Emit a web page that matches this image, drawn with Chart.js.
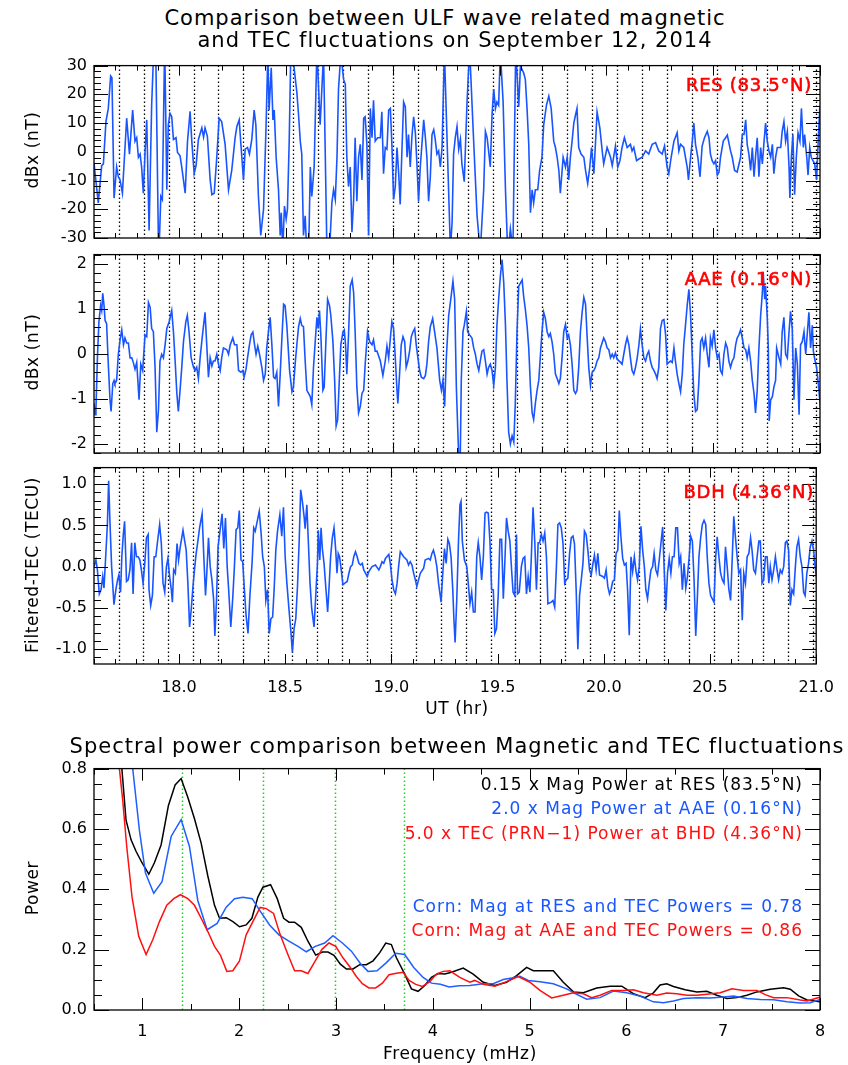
<!DOCTYPE html>
<html>
<head>
<meta charset="utf-8">
<title>ULF wave magnetic and TEC fluctuations</title>
<script src="https://cdn.jsdelivr.net/npm/chart.js@4.4.1/dist/chart.umd.min.js"></script>
<style>
  body { margin: 0; background: #fff; }
  #page { position: relative; width: 848px; height: 1065px; overflow: hidden; background: #fff; }
  canvas { position: absolute; left: 0; }
  .t { position: absolute; font-family: "DejaVu Sans", sans-serif; white-space: nowrap; line-height: 1; color: #000; letter-spacing: 1px; }
  .c { transform: translate(-50%, -50%); }
  .r { transform: translate(-100%, -50%); }
  .v { transform: translate(-50%, -50%) rotate(-90deg); }
  .title { font-size: 21px; }
  .axt { font-size: 17px; letter-spacing: 0.6px; }
  .stn { font-size: 18px; color: #ff0000; letter-spacing: 0.7px; -webkit-text-stroke: 0.6px #ff0000; }
  .leg { font-size: 17px; }
</style>
</head>
<body>
<div id="page">
  <canvas id="resChart" width="848" height="219" style="top:49px"></canvas>
  <canvas id="aaeChart" width="848" height="245" style="top:238px"></canvas>
  <canvas id="bdhChart" width="848" height="253" style="top:451px"></canvas>
  <canvas id="specChart" width="848" height="298" style="top:752px"></canvas>

  <div class="t title c" style="left:445px;top:18px">Comparison between ULF wave related magnetic</div>
  <div class="t title c" style="left:455px;top:40px">and TEC fluctuations on September 12, 2014</div>

  <div class="t axt v" style="left:32px;top:150px">dBx (nT)</div>
  <div class="t axt v" style="left:32px;top:352px">dBx (nT)</div>
  <div class="t axt v" style="left:32px;top:565px">Filtered-TEC (TECU)</div>
  <div class="t axt c" style="left:457px;top:708px">UT (hr)</div>

  <div class="t stn r" style="left:812px;top:85px">RES (83.5°N)</div>
  <div class="t stn r" style="left:812px;top:279px">AAE (0.16°N)</div>
  <div class="t stn r" style="left:814px;top:492px">BDH (4.36°N)</div>

  <div class="t title c" style="left:457px;top:746px">Spectral power comparison between Magnetic and TEC fluctuations</div>
  <div class="t axt v" style="left:32px;top:888px">Power</div>
  <div class="t axt c" style="left:460px;top:1053px">Frequency (mHz)</div>

  <div class="t leg r" style="left:803px;top:784px;color:#000">0.15 x Mag Power at RES (83.5°N)</div>
  <div class="t leg r" style="left:803px;top:808px;color:#1955ff">2.0 x Mag Power at AAE (0.16°N)</div>
  <div class="t leg r" style="left:803px;top:833px;color:#ff1010">5.0 x TEC (PRN−1) Power at BHD (4.36°N)</div>
  <div class="t leg r" style="left:803px;top:906px;color:#1955ff">Corn: Mag at RES and TEC Powers = 0.78</div>
  <div class="t leg r" style="left:803px;top:930px;color:#ff1010">Corn: Mag at AAE and TEC Powers = 0.86</div>
</div>

<script>
// ---- data ----
// [UT hour, dBx nT] at RES
const resSamples = [
  [17.600,-4.0],[17.620,-17.8],[17.636,-4.8],[17.644,-4.2],[17.656,10.5],[17.667,15.1],[17.678,26.4],[17.684,25.8],[17.694,-16.1],[17.706,-5.3],
  [17.714,-8.7],[17.722,-9.8],[17.733,-14.4],[17.753,11.7],[17.766,-0.8],[17.781,14.5],[17.792,3.7],[17.800,4.9],[17.808,-1.9],[17.816,-0.8],
  [17.823,-5.3],[17.831,-14.4],[17.839,-0.2],[17.847,11.1],[17.858,-27.4],[17.870,16.2],[17.883,42],[17.889,36],[17.903,-38],[17.913,-15.5],
  [17.920,-16.6],[17.931,38],[17.941,-13.2],[17.948,9.4],[17.956,13.4],[17.964,12.2],[17.972,4.3],[17.984,4.9],[17.991,-0.2],[18.003,-1.4],
  [18.011,-5.3],[18.027,-14.4],[18.038,3.7],[18.050,14.1],[18.058,3.7],[18.069,-7.6],[18.078,-4.8],[18.089,4.3],[18.105,8.3],[18.113,5.1],
  [18.120,8.3],[18.131,5.4],[18.144,-9.8],[18.152,-14.9],[18.163,-14.4],[18.175,-1.9],[18.186,11.7],[18.198,10.5],[18.214,2.6],[18.230,-13.2],
  [18.245,-6.5],[18.261,4.9],[18.269,8.8],[18.280,11.1],[18.288,2.6],[18.300,-9.8],[18.308,0.9],[18.319,1.5],[18.328,-0.8],[18.339,4.3],
  [18.350,14.5],[18.358,9.4],[18.370,-15.5],[18.381,-29.1],[18.394,-20.0],[18.406,9.4],[18.414,34],[18.420,14.5],[18.430,29.2],[18.438,11.1],
  [18.444,14.5],[18.453,-1.9],[18.464,-13.2],[18.472,-29.1],[18.477,-21.2],[18.484,-34],[18.492,-18.9],[18.500,-23.4],[18.506,-20.0],[18.514,3.2],
  [18.522,36],[18.530,36],[18.538,28.6],[18.550,20.7],[18.558,12.8],[18.566,3.7],[18.573,-0.8],[18.581,-29.1],[18.589,-22.3],[18.597,-36],
  [18.605,-36],[18.613,-5.3],[18.620,-15.5],[18.631,-5.3],[18.644,36],[18.659,9.4],[18.675,34],[18.691,-35],[18.706,-30],[18.714,-17.8],
  [18.722,-13.2],[18.730,-16.6],[18.738,-1.9],[18.745,21.8],[18.756,34],[18.769,25.2],[18.777,23.5],[18.784,-1.9],[18.792,-12.1],[18.800,-5.3],
  [18.808,-28.0],[18.816,-16.6],[18.823,4.9],[18.831,-17.2],[18.839,-1.9],[18.847,2.6],[18.855,-9.8],[18.863,11.7],[18.870,12.2],[18.878,2.6],
  [18.886,-29.1],[18.894,15.1],[18.902,4.9],[18.909,17.9],[18.917,3.7],[18.928,4.9],[18.941,4.9],[18.948,13.9],[18.956,-7.6],[18.964,1.5],
  [18.972,0.9],[18.980,14.5],[18.988,15.1],[18.995,2.6],[19.003,-16.6],[19.011,-12.1],[19.019,1.5],[19.027,-7.6],[19.034,-18.3],[19.042,0.3],
  [19.050,17.3],[19.058,15.6],[19.066,-1.9],[19.073,6.0],[19.081,-5.3],[19.089,5.4],[19.097,12.2],[19.105,6.6],[19.113,-5.3],[19.120,-17.2],
  [19.128,-5.3],[19.144,11.1],[19.152,4.9],[19.159,-1.9],[19.167,-17.2],[19.175,-8.7],[19.183,6.0],[19.191,7.7],[19.198,4.3],[19.206,-0.8],
  [19.214,0.3],[19.222,-5.3],[19.230,1.5],[19.241,35],[19.256,-1.9],[19.269,-34],[19.277,-24.6],[19.284,-0.8],[19.292,4.9],[19.300,8.8],
  [19.308,0.9],[19.316,4.3],[19.323,-4.2],[19.334,-10.4],[19.347,17.3],[19.359,36],[19.378,3.7],[19.394,-22.3],[19.409,-35],[19.425,-13.2],
  [19.433,7.1],[19.441,4.9],[19.448,0.3],[19.456,-5.3],[19.464,12.8],[19.472,21.8],[19.480,15.1],[19.487,17.3],[19.495,16.2],[19.503,35],
  [19.516,17.3],[19.527,-13.2],[19.538,-36],[19.550,-26.8],[19.562,-34],[19.575,36],[19.589,15.6],[19.597,29.8],[19.612,27.5],[19.620,25.2],
  [19.628,15.1],[19.636,2.6],[19.644,-21.2],[19.652,-13.2],[19.659,-17.8],[19.667,-13.2],[19.678,-13.2],[19.687,-6.5],[19.698,-1.9],[19.706,9.4],
  [19.719,16.2],[19.730,19.4],[19.741,15.1],[19.753,3.7],[19.761,1.5],[19.769,-1.9],[19.777,-6.5],[19.784,-14.4],[19.797,-1.9],[19.808,-5.3],
  [19.816,-1.9],[19.823,-9.8],[19.831,-1.9],[19.839,3.7],[19.847,10.0],[19.855,12.8],[19.862,15.1],[19.870,1.5],[19.881,-0.8],[19.894,-1.9],
  [19.902,-6.5],[19.912,-11.0],[19.922,-5.3],[19.930,1.5],[19.941,-7.6],[19.949,3.7],[19.956,13.9],[19.969,8.3],[19.980,0.3],[19.987,-4.2],
  [20.003,1.5],[20.019,-1.9],[20.027,-4.8],[20.042,2.0],[20.053,-5.3],[20.063,-3.1],[20.073,1.5],[20.084,4.9],[20.097,1.5],[20.112,2.6],
  [20.120,0.3],[20.128,1.5],[20.141,-3.1],[20.152,-2.5],[20.167,-1.9],[20.183,0.3],[20.198,-0.8],[20.214,2.6],[20.230,3.2],[20.245,0.3],
  [20.261,-0.8],[20.272,2.0],[20.284,-5.3],[20.292,-7.6],[20.303,-1.9],[20.316,3.7],[20.331,6.6],[20.339,0.3],[20.347,2.6],[20.362,1.5],
  [20.378,-5.3],[20.384,-9.8],[20.394,-1.9],[20.402,3.7],[20.409,10.0],[20.417,2.6],[20.428,-1.9],[20.438,-8.7],[20.448,2.0],[20.459,4.9],
  [20.472,7.1],[20.480,4.9],[20.487,-0.8],[20.495,-3.1],[20.503,-4.2],[20.511,-3.1],[20.519,-8.1],[20.527,-7.0],[20.534,-1.9],[20.547,3.7],
  [20.558,4.9],[20.566,5.8],[20.581,0.3],[20.589,-1.9],[20.600,-6.5],[20.612,-7.0],[20.628,-1.9],[20.636,6.0],[20.644,6.0],[20.652,11.1],
  [20.659,2.6],[20.667,-0.8],[20.675,-6.5],[20.683,1.5],[20.691,-8.7],[20.698,-1.9],[20.706,4.9],[20.714,-8.7],[20.722,1.5],[20.730,-4.2],
  [20.737,2.6],[20.745,10.0],[20.753,3.7],[20.761,0.3],[20.769,-1.9],[20.777,2.6],[20.784,-7.6],[20.792,-1.9],[20.800,1.5],[20.816,1.5],
  [20.823,7.1],[20.831,10.5],[20.839,3.7],[20.847,7.1],[20.855,-5.3],[20.859,-16.1],[20.866,-1.9],[20.873,6.0],[20.881,-14.9],[20.889,-1.9],
  [20.897,6.6],[20.906,3.7],[20.913,15.1],[20.922,1.5],[20.928,6.0],[20.938,-1.9],[20.944,-8.1],[20.952,1.5],[20.959,-1.9],[20.967,-3.1],
  [20.975,-4.2],[20.984,-9.8],[20.991,2.6],[20.998,13.9],[21.003,11.7]
];

// [UT hour, dBx nT] at AAE
const aaeSamples = [
  [17.600,-1.10],[17.605,-1.35],[17.609,-1.24],[17.616,-0.09],[17.623,0.71],[17.631,1.07],[17.636,0.96],[17.641,1.34],[17.647,1.07],[17.652,0.74],
  [17.659,0.67],[17.667,-0.23],[17.675,-1.02],[17.680,-1.28],[17.688,-0.66],[17.694,-0.59],[17.698,-0.66],[17.706,-0.59],[17.714,-0.01],[17.722,0.31],
  [17.730,0.53],[17.738,0.20],[17.745,0.35],[17.753,0.24],[17.761,0.24],[17.769,-0.09],[17.777,-0.09],[17.784,-0.19],[17.792,-0.34],[17.800,-0.19],
  [17.811,-1.02],[17.819,-0.23],[17.828,-0.37],[17.839,0.42],[17.847,0.38],[17.855,1.14],[17.863,1.03],[17.870,0.56],[17.878,0.49],[17.886,-0.30],
  [17.894,-1.74],[17.902,-1.24],[17.909,-0.16],[17.917,-0.01],[17.925,-0.09],[17.933,0.20],[17.941,0.56],[17.952,0.71],[17.964,0.96],[17.972,0.49],
  [17.980,-0.16],[17.988,-0.88],[17.995,-1.28],[18.003,-0.81],[18.011,-0.30],[18.019,0.27],[18.030,0.71],[18.037,0.85],[18.045,0.49],[18.055,-0.09],
  [18.066,-0.30],[18.073,-0.37],[18.081,-0.30],[18.089,-0.55],[18.097,-0.09],[18.108,0.42],[18.120,0.92],[18.128,0.20],[18.136,-0.52],[18.144,-0.09],
  [18.152,-0.27],[18.159,-0.16],[18.167,-0.16],[18.175,-0.01],[18.183,-0.23],[18.191,-0.37],[18.198,-0.09],[18.206,0.13],[18.222,0.09],[18.230,-0.01],
  [18.238,0.20],[18.250,0.35],[18.258,0.20],[18.269,0.20],[18.277,-0.37],[18.288,-0.41],[18.297,-0.37],[18.303,-0.52],[18.312,-0.34],[18.319,-0.09],
  [18.328,0.20],[18.336,0.42],[18.344,0.48],[18.352,0.20],[18.359,-0.01],[18.367,0.17],[18.375,-0.01],[18.386,-0.30],[18.394,-0.59],[18.402,-0.45],
  [18.409,0.13],[18.417,0.49],[18.425,0.81],[18.433,0.20],[18.441,-0.52],[18.448,-0.55],[18.456,-0.41],[18.464,-1.17],[18.472,-0.45],[18.480,0.35],
  [18.488,1.10],[18.495,1.07],[18.503,0.63],[18.516,-0.37],[18.527,-0.84],[18.534,-0.74],[18.542,-0.23],[18.550,0.20],[18.558,0.60],[18.566,0.78],
  [18.573,0.63],[18.581,0.60],[18.589,-0.16],[18.597,-0.81],[18.605,-0.88],[18.613,-0.95],[18.620,-1.13],[18.628,-0.30],[18.636,0.27],[18.644,0.81],
  [18.650,0.56],[18.656,0.96],[18.663,0.35],[18.672,-0.81],[18.678,-0.74],[18.686,0.27],[18.694,1.21],[18.703,1.07],[18.709,0.85],[18.719,0.27],
  [18.727,-0.59],[18.734,-1.60],[18.741,-1.46],[18.750,-0.45],[18.756,0.20],[18.766,0.49],[18.772,0.53],[18.778,0.20],[18.784,-0.45],[18.792,0.42],
  [18.800,1.50],[18.809,1.64],[18.816,1.35],[18.823,0.49],[18.831,-0.74],[18.839,-1.31],[18.847,-1.17],[18.855,-0.88],[18.863,-0.81],[18.870,-0.23],
  [18.881,0.49],[18.891,0.27],[18.902,0.20],[18.909,0.31],[18.917,0.06],[18.925,0.06],[18.933,-0.05],[18.941,-0.16],[18.953,-0.48],[18.964,-0.16],
  [18.972,0.17],[18.980,-0.09],[18.988,0.35],[18.995,0.71],[19.003,0.56],[19.011,-0.09],[19.019,-0.81],[19.023,-1.10],[19.031,-0.45],[19.039,0.20],
  [19.047,0.38],[19.055,0.27],[19.062,-0.30],[19.070,-0.16],[19.078,0.06],[19.086,0.38],[19.094,0.49],[19.102,0.56],[19.109,0.20],[19.117,-0.09],
  [19.125,-0.37],[19.133,-0.52],[19.144,-0.55],[19.152,-0.48],[19.159,-0.23],[19.167,0.27],[19.175,0.60],[19.186,0.78],[19.195,0.49],[19.206,0.13],
  [19.219,-0.59],[19.227,-0.81],[19.234,-0.59],[19.242,-1.17],[19.250,-0.09],[19.261,0.85],[19.269,1.14],[19.281,1.61],[19.289,1.21],[19.297,-0.74],
  [19.303,-1.60],[19.309,-2.40],[19.315,-2.40],[19.320,-0.59],[19.328,0.49],[19.334,0.63],[19.344,0.94],[19.350,0.49],[19.359,0.42],[19.370,0.35],
  [19.378,0.13],[19.386,-0.01],[19.394,-0.23],[19.402,-0.37],[19.409,-0.16],[19.417,0.06],[19.425,0.09],[19.433,-0.16],[19.441,-0.45],[19.448,-0.30],
  [19.456,-0.23],[19.464,-0.37],[19.472,-0.70],[19.480,-0.30],[19.487,0.63],[19.495,1.21],[19.503,1.72],[19.511,2.09],[19.519,1.57],[19.527,0.63],
  [19.534,-0.59],[19.542,-1.74],[19.550,-2.00],[19.558,-1.82],[19.566,-1.96],[19.573,-1.10],[19.581,0.49],[19.589,1.50],[19.597,1.57],[19.605,1.64],
  [19.612,1.28],[19.620,0.99],[19.628,0.63],[19.636,0.13],[19.644,-0.74],[19.652,-1.31],[19.659,-1.46],[19.667,-1.10],[19.675,-0.81],[19.683,-0.59],
  [19.691,-0.01],[19.698,0.49],[19.706,0.92],[19.714,0.78],[19.722,0.49],[19.730,0.38],[19.737,0.45],[19.745,0.27],[19.753,-0.01],[19.761,-0.45],
  [19.769,-0.55],[19.777,-0.66],[19.784,-0.55],[19.792,-0.09],[19.800,0.49],[19.808,0.65],[19.816,0.35],[19.823,0.42],[19.831,0.20],[19.839,-0.23],
  [19.847,-0.81],[19.855,-0.88],[19.862,-0.81],[19.870,-0.30],[19.878,0.49],[19.886,0.92],[19.894,1.25],[19.902,1.10],[19.909,0.42],[19.917,-0.30],
  [19.925,-0.70],[19.933,-0.41],[19.941,-0.37],[19.948,-0.30],[19.956,-0.16],[19.964,-0.09],[19.972,0.13],[19.987,0.35],[19.995,0.27],[20.003,0.13],
  [20.011,0.09],[20.019,-0.09],[20.027,-0.01],[20.034,-0.09],[20.042,0.02],[20.050,-0.12],[20.066,-0.19],[20.073,-0.23],[20.081,-0.01],[20.089,0.20],
  [20.097,0.36],[20.105,0.20],[20.112,-0.09],[20.120,-0.37],[20.128,-0.45],[20.136,-0.30],[20.144,-0.09],[20.152,0.20],[20.159,0.55],[20.167,0.20],
  [20.175,-0.09],[20.183,-0.16],[20.191,-0.01],[20.198,0.06],[20.206,-0.16],[20.214,-0.30],[20.222,-0.37],[20.230,-0.45],[20.237,-0.55],[20.245,-0.30],
  [20.253,0.56],[20.261,0.74],[20.269,0.76],[20.277,0.42],[20.284,-0.23],[20.292,-0.19],[20.300,-0.16],[20.308,-0.19],[20.316,0.13],[20.323,-0.16],
  [20.331,-0.45],[20.339,-0.66],[20.347,-0.84],[20.355,-0.45],[20.362,0.20],[20.370,0.63],[20.378,1.07],[20.386,1.43],[20.394,0.85],[20.402,-0.09],
  [20.409,-0.88],[20.417,-1.28],[20.425,-1.24],[20.433,-0.59],[20.441,0.27],[20.448,0.35],[20.456,0.13],[20.464,0.35],[20.472,-0.01],[20.480,-0.30],
  [20.487,0.35],[20.495,0.17],[20.503,0.53],[20.511,0.13],[20.519,-0.09],[20.527,-0.01],[20.534,-0.37],[20.542,-0.45],[20.550,-0.01],[20.558,0.24],
  [20.566,0.13],[20.573,-0.16],[20.581,-0.30],[20.589,-0.16],[20.597,-0.09],[20.605,0.20],[20.612,0.35],[20.620,0.42],[20.628,0.53],[20.636,0.35],
  [20.644,0.13],[20.652,0.09],[20.659,-0.09],[20.667,0.13],[20.675,-0.16],[20.683,-0.59],[20.691,-0.88],[20.698,-1.31],[20.706,-0.81],[20.714,0.13],
  [20.722,0.85],[20.730,1.35],[20.734,1.82],[20.741,1.21],[20.745,1.50],[20.753,0.81],[20.758,0.13],[20.762,-1.49],[20.769,-1.02],[20.777,-0.95],
  [20.784,-0.74],[20.792,-0.59],[20.797,0.13],[20.808,-0.09],[20.816,-0.23],[20.823,0.49],[20.831,0.81],[20.839,-0.01],[20.847,-0.09],[20.855,0.49],
  [20.862,0.94],[20.870,0.56],[20.878,-1.02],[20.886,0.13],[20.894,-0.23],[20.902,-1.35],[20.909,0.20],[20.917,0.27],[20.925,0.49],[20.933,-0.01],
  [20.941,0.49],[20.948,0.92],[20.956,0.13],[20.964,0.63],[20.969,0.06],[20.977,-0.16],[20.984,-0.30],[20.992,-0.66],[21.003,-1.24]
];

// [UT hour, filtered TEC in TECU] at BDH
const bdhSamples = [
  [17.600,0.00],[17.609,0.08],[17.616,-0.04],[17.625,-0.33],[17.633,-0.28],[17.641,-0.12],[17.647,-0.26],[17.655,0.12],[17.663,0.51],[17.669,1.04],
  [17.675,0.55],[17.683,0.00],[17.694,-0.46],[17.703,-0.28],[17.711,-0.16],[17.717,-0.10],[17.725,-0.31],[17.731,0.12],[17.738,0.39],[17.744,0.55],
  [17.750,0.08],[17.753,-0.18],[17.761,-0.16],[17.769,-0.04],[17.777,0.29],[17.784,-0.33],[17.792,0.29],[17.800,0.12],[17.808,0.12],[17.816,0.08],
  [17.823,-0.04],[17.831,-0.20],[17.839,0.04],[17.847,0.35],[17.855,0.39],[17.859,-0.28],[17.867,-0.47],[17.875,-0.35],[17.883,0.12],[17.891,0.12],
  [17.898,0.28],[17.909,0.51],[17.917,0.28],[17.925,-0.20],[17.933,-0.31],[17.941,0.00],[17.948,0.10],[17.956,-0.12],[17.964,-0.28],[17.969,-0.43],
  [17.975,-0.04],[17.983,-0.08],[17.991,0.28],[17.998,0.08],[18.006,0.24],[18.019,0.44],[18.027,0.31],[18.034,0.20],[18.042,-0.20],[18.050,-0.73],
  [18.058,-0.51],[18.066,-0.24],[18.073,-0.04],[18.081,0.16],[18.089,0.31],[18.097,0.47],[18.109,0.64],[18.117,0.12],[18.125,-0.35],[18.131,-0.08],
  [18.139,0.35],[18.147,0.00],[18.155,-0.16],[18.163,-0.39],[18.169,-0.84],[18.177,-0.39],[18.184,0.24],[18.194,0.45],[18.203,0.64],[18.211,0.22],
  [18.219,0.59],[18.227,0.00],[18.234,-0.28],[18.244,-0.73],[18.253,-0.39],[18.261,0.00],[18.269,0.45],[18.277,0.47],[18.284,0.68],[18.292,0.08],
  [18.300,0.06],[18.308,-0.28],[18.316,-0.59],[18.325,-0.81],[18.334,-0.35],[18.344,0.04],[18.352,0.47],[18.359,0.43],[18.367,0.53],[18.378,0.67],
  [18.386,0.43],[18.394,0.12],[18.402,0.00],[18.409,-0.41],[18.417,-0.28],[18.425,-0.81],[18.433,-0.63],[18.441,-0.61],[18.448,-0.28],[18.456,0.20],
  [18.464,0.43],[18.475,0.63],[18.484,0.37],[18.492,0.72],[18.500,0.12],[18.508,-0.20],[18.519,-0.55],[18.527,-0.79],[18.534,-1.04],[18.542,-0.75],
  [18.550,-0.63],[18.558,-0.24],[18.566,0.31],[18.573,0.93],[18.581,0.79],[18.589,0.61],[18.594,0.46],[18.602,0.75],[18.609,0.31],[18.617,-0.20],
  [18.625,-0.51],[18.636,-0.73],[18.644,-0.35],[18.652,0.04],[18.656,0.44],[18.663,0.08],[18.669,0.47],[18.675,0.22],[18.683,0.04],[18.691,-0.24],
  [18.700,-0.55],[18.706,-0.28],[18.714,0.12],[18.722,0.35],[18.730,0.47],[18.738,0.20],[18.744,-0.08],[18.750,0.16],[18.756,0.12],[18.764,-0.04],
  [18.772,-0.22],[18.781,-0.20],[18.792,-0.18],[18.800,-0.08],[18.808,0.00],[18.816,0.02],[18.823,0.12],[18.831,0.18],[18.839,0.12],[18.847,0.04],
  [18.855,0.02],[18.863,0.04],[18.870,-0.04],[18.878,-0.08],[18.886,-0.12],[18.894,-0.06],[18.909,0.00],[18.925,0.02],[18.941,-0.04],[18.948,0.00],
  [18.956,0.06],[18.964,0.04],[18.972,0.10],[18.988,0.15],[18.995,0.04],[19.003,-0.16],[19.011,-0.28],[19.019,-0.33],[19.027,-0.20],[19.034,0.00],
  [19.042,0.18],[19.058,0.12],[19.073,0.08],[19.081,0.02],[19.089,0.06],[19.097,0.02],[19.105,-0.08],[19.113,-0.16],[19.120,-0.24],[19.128,-0.16],
  [19.136,-0.08],[19.152,-0.02],[19.159,0.08],[19.175,0.10],[19.183,0.08],[19.191,0.16],[19.198,0.20],[19.206,0.12],[19.214,0.00],[19.222,-0.20],
  [19.230,-0.35],[19.234,-0.43],[19.242,-0.08],[19.250,0.22],[19.258,0.04],[19.266,0.33],[19.273,0.28],[19.281,0.12],[19.289,-0.28],[19.295,-0.67],
  [19.300,-0.92],[19.308,-0.39],[19.316,0.31],[19.323,0.75],[19.328,0.79],[19.334,0.31],[19.344,0.08],[19.355,0.00],[19.362,-0.20],[19.370,-0.45],
  [19.378,-0.31],[19.386,-0.55],[19.394,-0.55],[19.402,0.12],[19.409,0.29],[19.417,0.12],[19.425,-0.16],[19.433,0.12],[19.441,0.65],[19.448,0.66],
  [19.456,0.65],[19.464,0.31],[19.472,-0.28],[19.480,-0.28],[19.487,-0.81],[19.495,-0.75],[19.503,-0.35],[19.511,0.33],[19.519,0.33],[19.527,-0.39],
  [19.534,0.04],[19.542,0.59],[19.550,0.43],[19.558,0.31],[19.566,-0.04],[19.573,-0.31],[19.581,-0.35],[19.589,0.39],[19.594,-0.33],[19.602,-0.31],
  [19.612,0.00],[19.620,0.10],[19.628,0.12],[19.636,-0.33],[19.644,-0.12],[19.652,-0.31],[19.659,0.12],[19.667,0.72],[19.675,0.31],[19.683,-0.28],
  [19.691,0.29],[19.698,0.29],[19.706,0.39],[19.714,0.31],[19.722,0.41],[19.730,0.12],[19.737,-0.45],[19.753,-0.43],[19.761,-0.41],[19.769,-0.49],
  [19.777,0.00],[19.784,0.51],[19.792,0.53],[19.800,0.47],[19.808,0.28],[19.816,-0.20],[19.823,-0.16],[19.831,-0.14],[19.839,0.16],[19.847,0.35],
  [19.855,0.37],[19.862,0.28],[19.870,-0.28],[19.878,-1.00],[19.886,-0.35],[19.894,-0.16],[19.902,0.04],[19.909,0.43],[19.917,0.39],[19.925,0.20],
  [19.933,-0.04],[19.941,-0.10],[19.948,0.02],[19.956,0.14],[19.964,-0.04],[19.972,0.16],[19.980,-0.10],[19.995,-0.12],[20.003,-0.14],[20.011,-0.04],
  [20.019,-0.24],[20.027,-0.33],[20.034,-0.28],[20.042,-0.18],[20.050,-0.16],[20.058,0.16],[20.066,0.20],[20.073,0.68],[20.081,0.35],[20.089,0.10],
  [20.097,0.02],[20.105,0.04],[20.112,-0.28],[20.120,-0.83],[20.128,0.12],[20.136,-0.06],[20.144,0.12],[20.152,-0.06],[20.159,-0.16],[20.167,0.00],
  [20.175,0.49],[20.183,0.20],[20.191,0.00],[20.198,-0.28],[20.206,-0.39],[20.214,-0.20],[20.222,-0.04],[20.230,0.00],[20.237,0.16],[20.245,-0.04],
  [20.253,-0.10],[20.261,0.08],[20.269,0.28],[20.277,0.48],[20.284,0.00],[20.292,-0.53],[20.300,-0.08],[20.308,0.10],[20.316,-0.08],[20.323,0.12],
  [20.331,0.12],[20.339,0.47],[20.347,0.47],[20.355,0.04],[20.362,0.12],[20.370,-0.28],[20.378,0.04],[20.386,-0.26],[20.394,-0.12],[20.402,0.12],
  [20.409,0.37],[20.417,0.31],[20.425,-0.16],[20.433,-0.84],[20.441,-0.35],[20.448,0.12],[20.456,0.35],[20.464,0.51],[20.472,0.56],[20.480,0.51],
  [20.487,0.12],[20.495,-0.20],[20.503,-0.35],[20.511,-0.39],[20.519,-0.43],[20.527,0.12],[20.534,0.36],[20.542,0.12],[20.550,-0.08],[20.558,-0.16],
  [20.566,-0.20],[20.573,0.24],[20.581,0.00],[20.589,-0.28],[20.597,-0.41],[20.605,0.12],[20.612,0.61],[20.620,0.35],[20.628,0.12],[20.636,-0.08],
  [20.644,-0.04],[20.652,-0.65],[20.659,-0.08],[20.667,-0.20],[20.675,0.12],[20.683,0.16],[20.691,0.35],[20.698,0.20],[20.706,-0.04],[20.714,-0.08],
  [20.722,0.12],[20.730,0.31],[20.737,0.31],[20.745,-0.20],[20.753,-0.16],[20.761,0.12],[20.769,0.12],[20.777,-0.20],[20.784,0.00],[20.792,-0.16],
  [20.800,-0.04],[20.808,0.12],[20.816,-0.04],[20.823,-0.16],[20.831,-0.04],[20.839,-0.08],[20.847,0.00],[20.855,0.29],[20.862,0.31],[20.870,0.20],
  [20.878,-0.47],[20.886,-0.28],[20.894,-0.33],[20.902,0.00],[20.909,0.24],[20.917,0.33],[20.925,0.12],[20.933,0.00],[20.941,-0.31],[20.948,-0.35],
  [20.956,-0.08],[20.964,0.04],[20.972,0.24],[20.980,0.31],[20.988,0.20],[20.995,0.00],[21.003,-0.16]
];

// dotted guide times (UT hour) drawn in the three upper panels
const waveTimes = [17.717,17.833,17.950,18.067,18.183,18.300,18.417,18.533,18.650,18.767,18.883,19.000,19.117,19.233,19.350,
                   19.467,19.583,19.700,19.817,19.933,20.050,20.167,20.283,20.400,20.517,20.633,20.750,20.867,20.983];

// spectra: [frequency mHz, scaled power]
const specRes = [
  [0.75,0.95],[0.831,0.629],[0.883,0.564],[0.934,0.526],[0.996,0.488],[1.066,0.450],[1.124,0.488],[1.193,0.547],[1.269,0.678],[1.338,0.746],
  [1.400,0.767],[1.469,0.705],[1.538,0.634],[1.607,0.553],[1.676,0.444],[1.745,0.347],[1.797,0.304],[1.866,0.306],[1.935,0.293],[2.003,0.276],
  [2.072,0.282],[2.131,0.304],[2.193,0.374],[2.245,0.407],[2.324,0.415],[2.393,0.369],[2.459,0.304],[2.514,0.291],[2.572,0.291],[2.641,0.274],
  [2.710,0.228],[2.790,0.182],[2.859,0.192],[2.917,0.192],[2.979,0.181],[3.045,0.152],[3.107,0.136],[3.176,0.136],[3.245,0.150],[3.314,0.150],
  [3.383,0.163],[3.452,0.190],[3.514,0.222],[3.572,0.217],[3.624,0.173],[3.710,0.119],[3.779,0.070],[3.848,0.062],[3.917,0.081],[3.986,0.108],
  [4.055,0.121],[4.124,0.119],[4.193,0.125],[4.314,0.139],[4.417,0.119],[4.521,0.092],[4.641,0.081],[4.762,0.092],[4.866,0.114],[4.969,0.141],
  [5.038,0.130],[5.124,0.130],[5.245,0.130],[5.348,0.092],[5.452,0.060],[5.555,0.057],[5.693,0.073],[5.831,0.079],[5.952,0.079],[6.072,0.054],
  [6.193,0.041],[6.279,0.057],[6.348,0.083],[6.417,0.087],[6.486,0.078],[6.607,0.067],[6.728,0.060],[6.831,0.062],[6.934,0.049],[7.038,0.038],
  [7.141,0.041],[7.245,0.049],[7.348,0.060],[7.486,0.069],[7.624,0.074],[7.693,0.069],[7.779,0.047],[7.866,0.033],[8.003,0.027]
];
const specAae = [
  [0.85,0.93],[0.900,0.800],[0.969,0.596],[1.031,0.455],[1.117,0.387],[1.203,0.425],[1.297,0.575],[1.400,0.631],[1.486,0.542],[1.572,0.363],
  [1.669,0.266],[1.772,0.287],[1.866,0.341],[1.952,0.369],[2.038,0.374],[2.134,0.369],[2.210,0.331],[2.314,0.282],[2.410,0.249],[2.514,0.228],
  [2.607,0.211],[2.693,0.193],[2.786,0.211],[2.883,0.222],[2.969,0.246],[3.066,0.222],[3.159,0.195],[3.252,0.154],[3.331,0.128],[3.424,0.130],
  [3.521,0.157],[3.617,0.188],[3.710,0.184],[3.803,0.141],[3.900,0.108],[3.986,0.089],[4.079,0.085],[4.169,0.076],[4.272,0.080],[4.383,0.081],
  [4.521,0.087],[4.624,0.087],[4.728,0.101],[4.814,0.106],[4.900,0.112],[4.986,0.098],[5.107,0.094],[5.245,0.087],[5.383,0.070],[5.486,0.052],
  [5.590,0.036],[5.728,0.041],[5.866,0.063],[6.003,0.057],[6.141,0.046],[6.279,0.027],[6.383,0.024],[6.486,0.030],[6.590,0.038],[6.728,0.041],
  [6.866,0.040],[7.003,0.043],[7.107,0.046],[7.245,0.038],[7.383,0.035],[7.521,0.034],[7.659,0.027],[7.797,0.023],[7.900,0.024],[8.003,0.035]
];
const specTec = [
  [0.72,0.93],[0.797,0.694],[0.838,0.542],[0.893,0.374],[0.962,0.244],[1.038,0.184],[1.107,0.233],[1.176,0.293],[1.252,0.347],[1.324,0.369],
  [1.393,0.382],[1.469,0.369],[1.538,0.347],[1.607,0.304],[1.676,0.260],[1.745,0.211],[1.807,0.181],[1.872,0.128],[1.934,0.130],[2.003,0.163],
  [2.072,0.249],[2.141,0.293],[2.217,0.340],[2.279,0.336],[2.355,0.320],[2.424,0.249],[2.503,0.184],[2.572,0.130],[2.641,0.130],[2.710,0.121],
  [2.786,0.163],[2.855,0.201],[2.928,0.222],[2.997,0.211],[3.072,0.173],[3.148,0.141],[3.210,0.111],[3.272,0.087],[3.341,0.073],[3.410,0.073],
  [3.479,0.089],[3.548,0.117],[3.624,0.122],[3.693,0.125],[3.755,0.098],[3.824,0.085],[3.893,0.078],[3.969,0.094],[4.038,0.119],[4.107,0.128],
  [4.176,0.130],[4.279,0.108],[4.383,0.092],[4.434,0.098],[4.521,0.085],[4.641,0.079],[4.762,0.094],[4.883,0.111],[5.003,0.092],[5.107,0.065],
  [5.228,0.040],[5.348,0.049],[5.452,0.057],[5.555,0.054],[5.641,0.041],[5.728,0.049],[5.848,0.065],[5.969,0.065],[6.072,0.067],[6.176,0.057],
  [6.314,0.049],[6.417,0.056],[6.521,0.054],[6.624,0.049],[6.728,0.049],[6.831,0.052],[6.969,0.057],[7.090,0.070],[7.210,0.065],[7.348,0.065],
  [7.434,0.051],[7.521,0.041],[7.659,0.041],[7.797,0.033],[7.866,0.030],[8.003,0.043]
];
// dashed green markers on the spectrum (mHz)
const peakFreqs = [1.41, 2.25, 2.99, 3.70];

// tick labels
const utTicks = [18.0, 18.5, 19.0, 19.5, 20.0, 20.5, 21.0];
const resTicks = [-30, -20, -10, 0, 10, 20, 30];
const aaeTicks = [-2, -1, 0, 1, 2];
const tecTicks = [-1.0, -0.5, 0.0, 0.5, 1.0];
const freqTicks = [1, 2, 3, 4, 5, 6, 7, 8];
const powerTicks = [0.0, 0.2, 0.4, 0.6, 0.8];

const traceBlue = '#1955ff';
const tickFont = { family: 'DejaVu Sans', size: 16 };

function stepsBetween(min, max, step) {
  const out = [];
  const first = Math.ceil(min / step - 1e-6);
  const last = Math.floor(max / step + 1e-6);
  for (let k = first; k <= last; k++) out.push(k * step);
  return out;
}

// box + inward ticks on all four sides (IDL style)
const framePlugin = {
  id: 'frame',
  afterDatasetsDraw(chart, args, o) {
    const { ctx, chartArea: a, scales: { x, y } } = chart;
    ctx.save();
    ctx.strokeStyle = '#000';
    ctx.lineWidth = 1;
    ctx.beginPath();
    const xMaj = x.ticks.map(t => t.value);
    const yMaj = y.ticks.map(t => t.value);
    const xt = (v, len) => {
      const p = Math.round(x.getPixelForValue(v)) + 0.5;
      ctx.moveTo(p, a.bottom); ctx.lineTo(p, a.bottom - len);
      ctx.moveTo(p, a.top); ctx.lineTo(p, a.top + len);
    };
    const yt = (v, len) => {
      const p = Math.round(y.getPixelForValue(v)) + 0.5;
      ctx.moveTo(a.left, p); ctx.lineTo(a.left + len, p);
      ctx.moveTo(a.right, p); ctx.lineTo(a.right - len, p);
    };
    stepsBetween(x.min, x.max, o.xMinor).forEach(v => xt(v, o.xMinorLen));
    xMaj.forEach(v => xt(v, o.xMajorLen));
    stepsBetween(y.min, y.max, o.yMinor).forEach(v => yt(v, o.yMinorLen));
    yMaj.forEach(v => yt(v, o.yMajorLen));
    ctx.stroke();
    ctx.lineWidth = 1.3;
    ctx.strokeRect(a.left, a.top, a.right - a.left, a.bottom - a.top);
    ctx.restore();
  }
};

// vertical dotted guide lines
const guidePlugin = {
  id: 'guides',
  beforeDatasetsDraw(chart, args, o) {
    const { ctx, chartArea: a, scales: { x } } = chart;
    ctx.save();
    ctx.strokeStyle = o.color;
    ctx.lineWidth = o.width;
    ctx.setLineDash(o.dash);
    o.values.forEach(v => {
      const p = Math.round(x.getPixelForValue(v)) + 0.5;
      ctx.beginPath();
      ctx.moveTo(p, a.top);
      ctx.lineTo(p, a.bottom);
      ctx.stroke();
    });
    ctx.restore();
  }
};

function toXY(samples) {
  return samples.map(p => ({ x: p[0], y: p[1] }));
}

function timePanel(id, samples, yMin, yMax, yTicks, yMinor, showX, yFmt) {
  return new Chart(document.getElementById(id), {
    type: 'line',
    data: {
      datasets: [{
        data: toXY(samples),
        borderColor: traceBlue,
        borderWidth: 1.6,
        pointRadius: 0,
        tension: 0
      }]
    },
    options: {
      responsive: false,
      animation: false,
      events: [],
      layout: { padding: { top: 12, right: 28, left: 0, bottom: 0 } },
      plugins: {
        legend: { display: false },
        tooltip: { enabled: false },
        frame: { xMinor: 0.1, xMinorLen: 5, xMajorLen: 10, yMinor: yMinor, yMinorLen: 7, yMajorLen: 14 },
        guides: { values: waveTimes, color: '#000', width: 1.3, dash: [1.3, 2.7] }
      },
      scales: {
        x: {
          type: 'linear', min: 17.6, max: 21.0,
          afterBuildTicks: s => { s.ticks = utTicks.map(v => ({ value: v })); },
          afterFit: s => { s.height = showX ? 40 : 30; },
          grid: { display: false, drawTicks: false },
          border: { display: false },
          ticks: { display: showX, autoSkip: false, maxRotation: 0, padding: 14, color: '#000', font: tickFont,
                   callback: v => v.toFixed(1) }
        },
        y: {
          type: 'linear', min: yMin, max: yMax,
          afterBuildTicks: s => { s.ticks = yTicks.map(v => ({ value: v })); },
          afterFit: s => { s.width = 94; },
          grid: { display: false, drawTicks: false },
          border: { display: false },
          ticks: { autoSkip: false, padding: 7, color: '#000', font: tickFont, callback: yFmt }
        }
      }
    },
    plugins: [framePlugin, guidePlugin]
  });
}

timePanel('resChart', resSamples, -30, 30, resTicks, 2, false, v => String(v));
timePanel('aaeChart', aaeSamples, -2.2, 2.2, aaeTicks, 0.2, false, v => String(v));
timePanel('bdhChart', bdhSamples, -1.18, 1.2, tecTicks, 0.1, true, v => v.toFixed(1));

new Chart(document.getElementById('specChart'), {
  type: 'line',
  data: {
    datasets: [
      { label: 'RES', data: toXY(specRes), borderColor: '#000', borderWidth: 1.5, pointRadius: 0, tension: 0, order: 2 },
      { label: 'AAE', data: toXY(specAae), borderColor: '#1f5eff', borderWidth: 1.5, pointRadius: 0, tension: 0, order: 1 },
      { label: 'TEC', data: toXY(specTec), borderColor: '#ff1010', borderWidth: 1.5, pointRadius: 0, tension: 0, order: 0 }
    ]
  },
  options: {
    responsive: false,
    animation: false,
    events: [],
    layout: { padding: { top: 12, right: 28, left: 0, bottom: 0 } },
    plugins: {
      legend: { display: false },
      tooltip: { enabled: false },
      frame: { xMinor: 0.5, xMinorLen: 6, xMajorLen: 12, yMinor: 0.05, yMinorLen: 8, yMajorLen: 15 },
      guides: { values: peakFreqs, color: '#10e010', width: 1.5, dash: [1.5, 2.5] }
    },
    scales: {
      x: {
        type: 'linear', min: 0.5, max: 8,
        afterBuildTicks: s => { s.ticks = freqTicks.map(v => ({ value: v })); },
        afterFit: s => { s.height = 40; },
        grid: { display: false, drawTicks: false },
        border: { display: false },
        ticks: { autoSkip: false, maxRotation: 0, padding: 12, color: '#000', font: tickFont, callback: v => String(v) }
      },
      y: {
        type: 'linear', min: 0, max: 0.8,
        afterBuildTicks: s => { s.ticks = powerTicks.map(v => ({ value: v })); },
        afterFit: s => { s.width = 94; },
        grid: { display: false, drawTicks: false },
        border: { display: false },
        ticks: { autoSkip: false, padding: 7, color: '#000', font: tickFont, callback: v => v.toFixed(1) }
      }
    }
  },
  plugins: [framePlugin, guidePlugin]
});
</script>
</body>
</html>
